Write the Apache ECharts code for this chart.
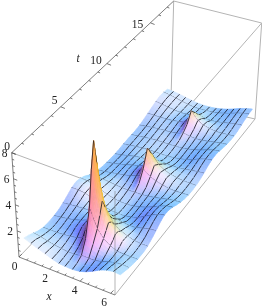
<!DOCTYPE html>
<html><head><meta charset="utf-8">
<style>html,body{margin:0;padding:0;background:#fff}#c{width:262px;height:308px;filter:blur(.3px)}</style>
<script src="https://cdn.jsdelivr.net/npm/echarts@6/dist/echarts.min.js"></script></head>
<body><div id="c"></div>
<script>
const xSamples=[0,.45,.9,1.35,1.8,2.25,2.65,2.95,3.14,3.33,3.63,4.03,4.48,4.93,5.38,5.83,6.28];
const tSamples=[.6,1.1,1.6,2.1,2.6,2.9,3.2,3.5,3.8,4.3,4.8,5.3,5.8,6.3,6.8,7.3,7.8,8.3,8.8,9.3,9.8,10.3,10.8,11.3,11.8,12.3,12.8,13.3,13.8,14.3,14.8,15.3,15.8,16.3,16.8,17.3];
const heights=[
[1.0,.8,.6,.42,.22,.08,.04,.03,.03,.05,.1,.25,.5,.8,1.0,1.1,1.05],
[.85,.72,.55,.38,.22,.12,.08,.08,.1,.1,.13,.25,.45,.7,.88,.95,.9],
[.65,.55,.42,.32,.24,.18,.18,.22,.3,.3,.3,.3,.42,.6,.74,.8,.76],
[.45,.42,.37,.33,.3,.3,.36,.55,1.2,1.2,1.0,.75,.6,.58,.64,.68,.65],
[.33,.33,.33,.36,.42,.5,.68,1.2,3.2,2.6,1.8,1.2,.85,.62,.58,.58,.58],
[.3,.31,.35,.42,.52,.72,1.05,2.0,6.0,4.2,2.6,1.6,1.05,.75,.6,.56,.56],
[.3,.32,.38,.48,.65,.9,1.25,3.0,8.5,5.6,3.5,2.0,1.3,.9,.65,.56,.55],
[.32,.36,.44,.55,.7,.95,1.3,2.3,6.0,4.4,2.8,1.8,1.25,.9,.68,.58,.57],
[.36,.42,.5,.6,.75,.95,1.2,1.6,3.6,2.8,2.0,1.4,1.05,.85,.68,.62,.62],
[.45,.52,.6,.68,.78,.9,1.0,1.1,1.9,1.6,1.3,1.05,.88,.75,.7,.74,.8],
[.62,.68,.72,.75,.78,.8,.82,.85,1.0,.95,.85,.75,.68,.7,.84,.96,1.02],
[.85,.88,.86,.8,.72,.62,.55,.52,.52,.5,.46,.46,.54,.72,.98,1.18,1.28],
[1.1,1.1,1.02,.85,.65,.46,.36,.32,.32,.3,.3,.38,.52,.78,1.08,1.32,1.45],
[1.22,1.18,1.05,.82,.58,.4,.3,.27,.27,.27,.3,.38,.54,.78,1.08,1.3,1.42],
[1.15,1.1,.98,.78,.56,.4,.32,.3,.3,.3,.32,.42,.56,.76,1.0,1.18,1.28],
[.95,.92,.84,.7,.55,.44,.38,.36,.36,.36,.38,.46,.57,.7,.88,1.0,1.06],
[.68,.7,.7,.64,.56,.5,.47,.47,.48,.47,.47,.5,.57,.66,.76,.84,.88],
[.45,.5,.55,.57,.58,.57,.62,.68,.8,.75,.68,.62,.6,.62,.67,.72,.74],
[.35,.4,.47,.55,.62,.72,.85,1.0,1.6,1.4,1.15,.95,.8,.68,.64,.64,.65],
[.3,.36,.45,.55,.7,.8,1.0,1.5,2.9,2.3,1.7,1.25,1.0,.8,.7,.64,.62],
[.28,.34,.44,.55,.68,.8,.95,1.2,2.1,1.8,1.4,1.1,.9,.78,.7,.66,.64],
[.26,.32,.42,.53,.64,.72,.8,.9,1.2,1.15,1.05,.9,.8,.74,.72,.72,.72],
[.26,.32,.42,.52,.58,.6,.62,.66,.72,.72,.7,.66,.66,.7,.76,.82,.86],
[.3,.35,.43,.5,.52,.52,.5,.5,.5,.5,.5,.52,.58,.7,.84,.96,1.04],
[.36,.4,.45,.48,.48,.46,.44,.42,.42,.42,.44,.48,.58,.72,.92,1.06,1.16],
[.4,.43,.47,.5,.5,.47,.45,.44,.44,.44,.45,.5,.6,.74,.93,1.08,1.2],
[.42,.46,.5,.53,.54,.52,.5,.49,.5,.49,.5,.54,.62,.74,.9,1.04,1.12],
[.45,.5,.55,.58,.6,.58,.56,.58,.6,.58,.56,.58,.64,.72,.84,.94,1.0],
[.52,.56,.6,.63,.64,.64,.68,.75,.85,.8,.72,.66,.66,.72,.79,.86,.9],
[.65,.66,.68,.7,.7,.72,.78,.85,1.2,1.1,.95,.82,.74,.72,.76,.81,.84],
[.8,.78,.75,.74,.75,.8,.85,1.15,1.95,1.65,1.3,1.05,.9,.8,.78,.8,.82],
[.95,.9,.84,.78,.74,.76,.85,1.0,1.45,1.3,1.1,.95,.82,.78,.8,.85,.88],
[1.1,1.0,.9,.8,.72,.7,.75,.85,.92,.85,.75,.7,.72,.78,.86,.94,.98],
[1.2,1.08,.95,.82,.7,.64,.62,.65,.68,.65,.62,.64,.7,.8,.92,1.02,1.08],
[1.2,1.1,.97,.82,.7,.6,.56,.56,.56,.56,.56,.6,.7,.82,.96,1.08,1.16],
[1.12,1.06,.96,.82,.7,.6,.54,.52,.52,.52,.54,.6,.7,.84,1.0,1.12,1.2]];
const meshX=[.45,.9,1.35,1.8,2.25,2.65,3.14,3.63,4.03,4.48,4.93,5.38,5.83];
const meshT=[1.6,2.6,3.8,4.8,5.8,6.8,7.8,8.8,9.8,10.8,11.8,12.8,13.8,14.8,15.8,16.8];
const xTicks=[0,2,4,6], tTicks=[0,5,10,15], zTicks=[2,4,6,8];
const xMinor=[.5,1,1.5,2.5,3,3.5,4.5,5,5.5];
const tMinor=[1,2,3,4,6,7,8,9,11,12,13,14,16,17];
const zMinor=[.5,1,1.5,2.5,3,3.5,4.5,5,5.5,6.5,7,7.5];
const XMAX=6.28,TMAX=17.8,ZMAX=8;
const C={ '000':[19,257],'100':[115,295],'010':[171,99],'110':[255,119],
          '001':[11.7,152.7],'101':[115,191],'011':[173.7,1],'111':[261.7,23]};
function warp(t){const u=t/TMAX;return u/(u+.9*(1-u));}
function P(x,t,z){
  const a=x/XMAX,b=warp(t),c=Math.min(z,ZMAX)/ZMAX,r=[0,0];
  for(const k in C){const w=(k[0]=='1'?a:1-a)*(k[1]=='1'?b:1-b)*(k[2]=='1'?c:1-c);r[0]+=w*C[k][0];r[1]+=w*C[k][1];}
  return r;
}
const Vx=[96,-38,52],Vt=[152,157,-166],Vz=[-8,104,91];
function norm(v){const n=Math.hypot(v[0],v[1],v[2]);return v.map(a=>a/n);}
const Ls=[[norm([1.5,-.5,2]),0,.8],[norm([1.5,1.5,2]),1,.7],[norm([-.5,1.5,2]),2,.8]];
function shade(i,j){
  const nt=tSamples.length,nx=xSamples.length;
  const jA=j<nx-1?j:j-1,i0=Math.max(i-1,0),i1=Math.min(i+1,nt-1);
  const zx=(Math.min(heights[i][jA+1],9)-Math.min(heights[i][jA],9))/(xSamples[jA+1]-xSamples[jA]);
  const zt=.6*(Math.min(heights[i1][j],9)-Math.min(heights[i0][j],9))/(tSamples[i1]-tSamples[i0]);
  const Tx=[0,1,2].map(k=>Vx[k]/XMAX+zx*Vz[k]/ZMAX),Tt=[0,1,2].map(k=>Vt[k]/TMAX+zt*Vz[k]/ZMAX);
  const n=norm([Tx[1]*Tt[2]-Tx[2]*Tt[1],Tx[2]*Tt[0]-Tx[0]*Tt[2],Tx[0]*Tt[1]-Tx[1]*Tt[0]]);
  const col=[.38,.25,.35];
  Ls.forEach(([l,c,s])=>{col[c]+=s*Math.max(0,n[0]*l[0]+n[1]*l[1]+n[2]*l[2]);});
  col[2]-=.35*Math.max(0,n[0]-.25);
  col[1]-=.06*Math.max(0,n[0]-.25);
  return col.map(v=>(Math.min(1,v)*.92+.08)*255);
}
const shades=heights.map((r,i)=>r.map((_,j)=>shade(i,j)));
const cells=[];
for(let i=tSamples.length-2;i>=0;i--)for(let j=0;j<xSamples.length-1;j++)cells.push([j,i]);
const SUB=3;
function bil(a,b,c,d,u,v){return a.map((_,k)=>(1-v)*((1-u)*a[k]+u*b[k])+v*((1-u)*d[k]+u*c[k]));}
function renderCell(params,api){
  const j=api.value(0),i=api.value(1);
  const pt=(jj,ii)=>api.coord(P(xSamples[jj],tSamples[ii],heights[ii][jj]));
  const a=pt(j,i),b=pt(j+1,i),c=pt(j+1,i+1),d=pt(j,i+1);
  const ca=shades[i][j],cb=shades[i][j+1],cc=shades[i+1][j+1],cd=shades[i+1][j];
  const children=[];
  for(let m=0;m<SUB;m++)for(let n=0;n<SUB;n++){
    const u0=n/SUB,u1=(n+1)/SUB,v0=m/SUB,v1=(m+1)/SUB;
    const col=bil(ca,cb,cc,cd,(u0+u1)/2,(v0+v1)/2).map(Math.round);
    const fill='rgb('+col.join(',')+')';
    children.push({type:'polygon',shape:{points:[bil(a,b,c,d,u0,v0),bil(a,b,c,d,u1,v0),bil(a,b,c,d,u1,v1),bil(a,b,c,d,u0,v1)]},
      style:{fill,stroke:fill,lineWidth:.6},silent:true});
  }
  const ms={stroke:'rgba(15,15,25,.88)',lineWidth:.9,fill:null};
  if(meshT.includes(tSamples[i]))children.push({type:'polyline',shape:{points:[a,b]},style:ms,silent:true});
  if(meshX.includes(xSamples[j]))children.push({type:'polyline',shape:{points:[a,d]},style:ms,silent:true});
  return {type:'group',children};
}
function segSeries(z,segs){
  return {type:'custom',coordinateSystem:'cartesian2d',z,silent:true,animation:false,data:segs.map((_,k)=>[k]),
    encode:{x:0,y:0},clip:false,
    renderItem(params,api){const s=segs[api.value(0)];
      return {type:'line',shape:{x1:api.coord(s.a)[0],y1:api.coord(s.a)[1],x2:api.coord(s.b)[0],y2:api.coord(s.b)[1]},style:{stroke:s.c,lineWidth:s.w}};}};
}
const GR='#b4b4b4',AX='#707070';
const backEdges=[['010','011'],['110','111'],['011','111'],['010','110'],['001','101'],['101','111'],['000','010'],['100','110'],
  ].map(([p,q])=>({a:C[p],b:C[q],c:GR,w:1}));
const axisSegs=[];
function edge(p,q,c,w){axisSegs.push({a:C[p],b:C[q],c,w});}
edge('000','100',AX,.9);edge('000','001',AX,.9);edge('001','011',AX,.9);
function tick(a,dx,dy,len){const p=P(a[0],a[1],a[2]);axisSegs.push({a:p,b:[p[0]+dx*len,p[1]+dy*len],c:'#555',w:.8});}
xTicks.forEach(x=>tick([x,0,0],.69,-.72,4));xMinor.forEach(x=>tick([x,0,0],.69,-.72,2.2));
tTicks.forEach(t=>tick([0,t,ZMAX],.93,.37,4.5));tMinor.forEach(t=>tick([0,t,ZMAX],.93,.37,2.4));
zTicks.forEach(z=>tick([0,0,z],.93,.37,4));zMinor.forEach(z=>tick([0,0,z],.93,.37,2.2));
const frontEdges=[{a:C['100'],b:C['101'],c:'rgba(120,120,120,.55)',w:1}];
const labels=[];
const xOff=[[-4.5,10],[-4.5,10],[-5.5,10],[-6.5,10]];
xTicks.forEach((x,k)=>{const p=P(x,0,0);labels.push({s:String(x),p:[p[0]+xOff[k][0],p[1]+xOff[k][1]]});});
const tOff=[[-4.5,-6],[-6,-6],[-11,-3],[-13,2]];
tTicks.forEach((t,k)=>{const p=P(0,t,ZMAX);labels.push({s:String(t),p:[p[0]+tOff[k][0],p[1]+tOff[k][1]]});});
zTicks.forEach(z=>{const p=P(0,0,z);labels.push({s:String(z),p:[p[0]-7,p[1]+1]});});
labels.push({s:'x',p:[49,297],i:true});
labels.push({s:'t',p:[78,59],i:true});
const chart=echarts.init(document.getElementById('c'),null,{renderer:'canvas'});
chart.setOption({animation:false,
  grid:{left:0,right:0,top:0,bottom:0},
  xAxis:{type:'value',min:0,max:262,show:false},
  yAxis:{type:'value',min:0,max:308,inverse:true,show:false},
  series:[
    segSeries(1,backEdges),
    {type:'custom',coordinateSystem:'cartesian2d',z:2,silent:true,animation:false,progressive:0,clip:false,
     data:cells,encode:{x:0,y:1},renderItem:renderCell},
    segSeries(3,frontEdges.concat(axisSegs)),
    {type:'custom',coordinateSystem:'cartesian2d',z:4,silent:true,animation:false,clip:false,
     data:labels.map((_,k)=>[k]),encode:{x:0,y:0},
     renderItem(params,api){const l=labels[api.value(0)],c=api.coord(l.p);
       return {type:'text',x:c[0],y:c[1],style:{text:l.s,fill:'#222',font:(l.i?'italic ':'')+'11.5px "Liberation Serif"',textAlign:'center',textVerticalAlign:'middle'}};}}
  ]});
</script></body></html>
